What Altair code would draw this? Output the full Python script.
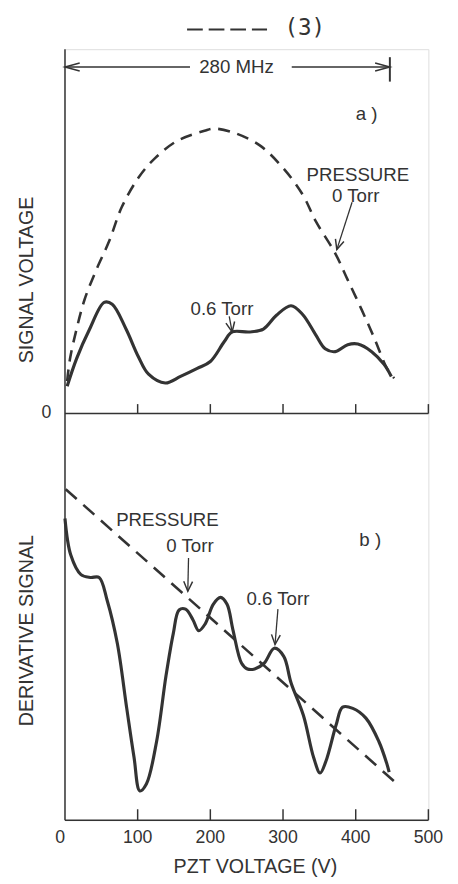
import altair as alt
import pandas as pd

# ---------------- data ----------------
# a) signal voltage (arbitrary units, 0 = baseline) vs PZT voltage (V)
a_v_06 = [3, 16, 34, 54, 65, 84, 101, 115, 138, 159, 182, 200, 219, 230, 254, 273, 291,
          311, 327, 345, 358, 372, 389, 403, 422, 439, 449]
a_s_06 = [0.75, 1.51, 2.32, 3.05, 3.0, 2.32, 1.56, 1.08, 0.84, 1.02, 1.24, 1.43, 1.97,
          2.24, 2.24, 2.32, 2.70, 2.96, 2.72, 2.16, 1.78, 1.70, 1.89, 1.91, 1.70, 1.35,
          1.02]
a_v_0 = [3, 7, 16, 27, 43, 61, 78, 101, 124, 155, 192, 205, 232, 268, 300, 327, 345,
         372, 389, 408, 426, 443, 453]
a_s_0 = [0.89, 1.51, 2.32, 3.13, 3.94, 4.74, 5.66, 6.47, 7.01, 7.49, 7.76, 7.82, 7.71,
         7.36, 6.74, 6.01, 5.28, 4.39, 3.67, 2.86, 2.05, 1.24, 0.97]

# b) derivative signal (arbitrary units)
b_v_06 = [0, 8, 22, 35, 47, 58, 72, 85, 95, 103, 112, 126, 139, 149, 157, 166, 176, 184,
          193, 204, 214, 223, 231, 243, 251, 261, 274, 288, 301, 311, 328, 342, 351, 359,
          373, 382, 396, 414, 432, 443, 446]
b_d_06 = [7.42, 6.52, 6.04, 5.97, 5.97, 5.41, 4.35, 2.75, 1.55, 0.72, 0.89, 1.93, 3.55,
          4.59, 5.17, 5.19, 4.93, 4.66, 4.83, 5.31, 5.48, 5.31, 4.69, 3.86, 3.72, 3.72,
          3.86, 4.23, 4.03, 3.38, 2.58, 1.55, 1.16, 1.45, 2.34, 2.78, 2.75, 2.51, 1.93,
          1.38, 1.18]
b_v_0 = [1, 454]
b_d_0 = [8.14, 0.94]

x_ticks = [0, 100, 200, 300, 400, 500]
x_tick_labels = ["0", "100", "200", "300", "400", "500"]

# ---------------- layout ----------------
W = 370
H_TOP = 371
H_ALL = 785
FONT = "Liberation Sans"
INK = "#333333"

xs = alt.Scale(domain=[0, 500], nice=False, zero=False)
ys_a = alt.Scale(domain=[0, 10], range=[H_TOP, 0], nice=False, zero=False)
ys_b = alt.Scale(domain=[0, 10], range=[H_ALL, H_TOP], nice=False, zero=False)


def X(f):
    return alt.X(f, type="quantitative", scale=xs, axis=None)


def YA(f):
    return alt.Y(f, type="quantitative", scale=ys_a, axis=None)


def YB(f):
    return alt.Y(f, type="quantitative", scale=ys_b, axis=None)


layers = []

# curves
df_a06 = pd.DataFrame({"v": a_v_06, "s": a_s_06})
df_a0 = pd.DataFrame({"v": a_v_0, "s": a_s_0})
df_b06 = pd.DataFrame({"v": b_v_06, "s": b_d_06})
df_b0 = pd.DataFrame({"v": b_v_0, "s": b_d_0})

layers.append(alt.Chart(df_a0).mark_line(color=INK, strokeWidth=2.6, strokeDash=[12, 8],
                                         interpolate="catmull-rom").encode(x=X("v"), y=YA("s")))
layers.append(alt.Chart(df_a06).mark_line(color=INK, strokeWidth=3.2,
                                          interpolate="catmull-rom").encode(x=X("v"), y=YA("s")))
layers.append(alt.Chart(df_b0).mark_line(color=INK, strokeWidth=2.6, strokeDash=[15, 9]
                                         ).encode(x=X("v"), y=YB("s")))
layers.append(alt.Chart(df_b06).mark_line(color=INK, strokeWidth=3.2,
                                          interpolate="catmull-rom").encode(x=X("v"), y=YB("s")))

# axes (drawn by hand: ticks point inward)
layers.append(alt.Chart(pd.DataFrame({"v": [0]})).mark_rule(color=INK, strokeWidth=1.5)
              .encode(x=X("v"), y=alt.value(0), y2=alt.value(H_ALL)))
layers.append(alt.Chart(pd.DataFrame({"v": [0], "v2": [500], "s": [0]}))
              .mark_rule(color=INK, strokeWidth=1.5).encode(x=X("v"), x2="v2", y=YA("s")))
layers.append(alt.Chart(pd.DataFrame({"v": x_ticks[1:], "s": 0, "s2": 0.26}))
              .mark_rule(color=INK, strokeWidth=1.5).encode(x=X("v"), y=YA("s"), y2="s2"))
layers.append(alt.Chart(pd.DataFrame({"v": [0], "v2": [500], "s": [0]}))
              .mark_rule(color=INK, strokeWidth=1.5).encode(x=X("v"), x2="v2", y=YB("s")))
layers.append(alt.Chart(pd.DataFrame({"v": x_ticks[1:], "s": 0, "s2": 0.27}))
              .mark_rule(color=INK, strokeWidth=1.5).encode(x=X("v"), y=YB("s"), y2="s2"))

# tick labels
layers.append(alt.Chart(pd.DataFrame({"v": x_ticks[1:], "t": x_tick_labels[1:]}))
              .mark_text(font=FONT, fontSize=18, color=INK, baseline="middle")
              .encode(x=X("v"), y=alt.value(803), text="t"))
layers.append(alt.Chart(pd.DataFrame({"v": [0], "t": ["0"]}))
              .mark_text(font=FONT, fontSize=18, color=INK, baseline="middle", dx=-5)
              .encode(x=X("v"), y=alt.value(803), text="t"))
layers.append(alt.Chart(pd.DataFrame({"v": [0], "s": [0], "t": ["0"]}))
              .mark_text(font=FONT, fontSize=18, color=INK, baseline="middle", dx=-19)
              .encode(x=X("v"), y=YA("s"), text="t"))

# axis titles
layers.append(alt.Chart(pd.DataFrame({"v": [262], "t": ["PZT  VOLTAGE  (V)"]}))
              .mark_text(font=FONT, fontSize=20, color=INK, baseline="middle")
              .encode(x=X("v"), y=alt.value(833), text="t"))
layers.append(alt.Chart(pd.DataFrame({"t": ["SIGNAL  VOLTAGE"]}))
              .mark_text(font=FONT, fontSize=20, color=INK, baseline="middle", angle=270)
              .encode(x=alt.value(-39), y=alt.value(235), text="t"))
layers.append(alt.Chart(pd.DataFrame({"t": ["DERIVATIVE  SIGNAL"]}))
              .mark_text(font=FONT, fontSize=20, color=INK, baseline="middle", angle=270)
              .encode(x=alt.value(-39), y=alt.value(592), text="t"))

# annotations panel a
ann_a = pd.DataFrame({"v": [403, 400, 216, 415, 236],
                      "s": [6.55, 5.98, 2.88, 8.22, 9.51],
                      "t": ["PRESSURE", "0 Torr", "0.6  Torr", "a )", "280  MHz"]})
layers.append(alt.Chart(ann_a).mark_text(font=FONT, fontSize=19, color=INK, baseline="middle")
              .encode(x=X("v"), y=YA("s"), text="t"))
# panel b
ann_b = pd.DataFrame({"v": [141, 172, 293, 420],
                      "s": [7.37, 6.74, 5.43, 6.88],
                      "t": ["PRESSURE", "0 Torr", "0.6  Torr", "b )"]})
layers.append(alt.Chart(ann_b).mark_text(font=FONT, fontSize=19, color=INK, baseline="middle")
              .encode(x=X("v"), y=YB("s"), text="t"))

# "---- (3)" header
layers.append(alt.Chart(pd.DataFrame({"v": [168], "v2": [278], "s": [10.54]}))
              .mark_rule(color=INK, strokeWidth=2, strokeDash=[16, 6])
              .encode(x=X("v"), x2="v2", y=YA("s")))
layers.append(alt.Chart(pd.DataFrame({"v": [330], "s": [10.57], "t": ["(3)"]}))
              .mark_text(font="DejaVu Sans Mono", fontSize=23, color=INK, baseline="middle")
              .encode(x=X("v"), y=YA("s"), text="t"))

# 280 MHz span arrow
layers.append(alt.Chart(pd.DataFrame({"v": [0, 312], "v2": [172, 447], "s": [9.51, 9.51]}))
              .mark_rule(color=INK, strokeWidth=1.5).encode(x=X("v"), x2="v2", y=YA("s")))
layers.append(alt.Chart(pd.DataFrame({"v": [447], "s": [9.78], "s2": [9.11]}))
              .mark_rule(color=INK, strokeWidth=2).encode(x=X("v"), y=YA("s"), y2="s2"))
layers.append(alt.Chart(pd.DataFrame({"v": [0], "s": [9.51]}))
              .mark_point(shape="M1,-0.27L0,0L1,0.27", size=900, filled=False, color=INK,
                          strokeWidth=1.5, opacity=1).encode(x=X("v"), y=YA("s")))
layers.append(alt.Chart(pd.DataFrame({"v": [447], "s": [9.51]}))
              .mark_point(shape="M-1,-0.27L0,0L-1,0.27", size=900, filled=False, color=INK,
                          strokeWidth=1.5, opacity=1).encode(x=X("v"), y=YA("s")))

# pointer arrows
HEAD = "M-1,-0.45L0,0L-1,0.45"
arrows_a = [(395, 5.80, 374, 4.50, 107), (226, 2.67, 230, 2.24, 79)]
arrows_b = [(170, 6.45, 169, 5.63, 92), (293, 5.19, 289, 4.32, 95)]
for (v1, s1, v2, s2, ang) in arrows_a:
    layers.append(alt.Chart(pd.DataFrame({"v": [v1], "v2": [v2], "s": [s1], "s2": [s2]}))
                  .mark_rule(color=INK, strokeWidth=1.3)
                  .encode(x=X("v"), x2="v2", y=YA("s"), y2="s2"))
    layers.append(alt.Chart(pd.DataFrame({"v": [v2], "s": [s2]}))
                  .mark_point(shape=HEAD, size=400, angle=ang, filled=False, color=INK,
                              strokeWidth=1.5, opacity=1).encode(x=X("v"), y=YA("s")))
for (v1, s1, v2, s2, ang) in arrows_b:
    layers.append(alt.Chart(pd.DataFrame({"v": [v1], "v2": [v2], "s": [s1], "s2": [s2]}))
                  .mark_rule(color=INK, strokeWidth=1.3)
                  .encode(x=X("v"), x2="v2", y=YB("s"), y2="s2"))
    layers.append(alt.Chart(pd.DataFrame({"v": [v2], "s": [s2]}))
                  .mark_point(shape=HEAD, size=400, angle=ang, filled=False, color=INK,
                              strokeWidth=1.5, opacity=1).encode(x=X("v"), y=YB("s")))

chart = (
    alt.layer(*layers)
    .resolve_scale(y="independent")
    .properties(width=W, height=H_ALL,
                autosize=alt.AutoSizeParams(type="none"),
                padding={"left": 58, "top": 34, "right": 22, "bottom": 56})
    .configure_view(stroke=None)
    .configure(background="white")
)

chart.save("out.html", embed_options={"renderer": "svg", "actions": False})
